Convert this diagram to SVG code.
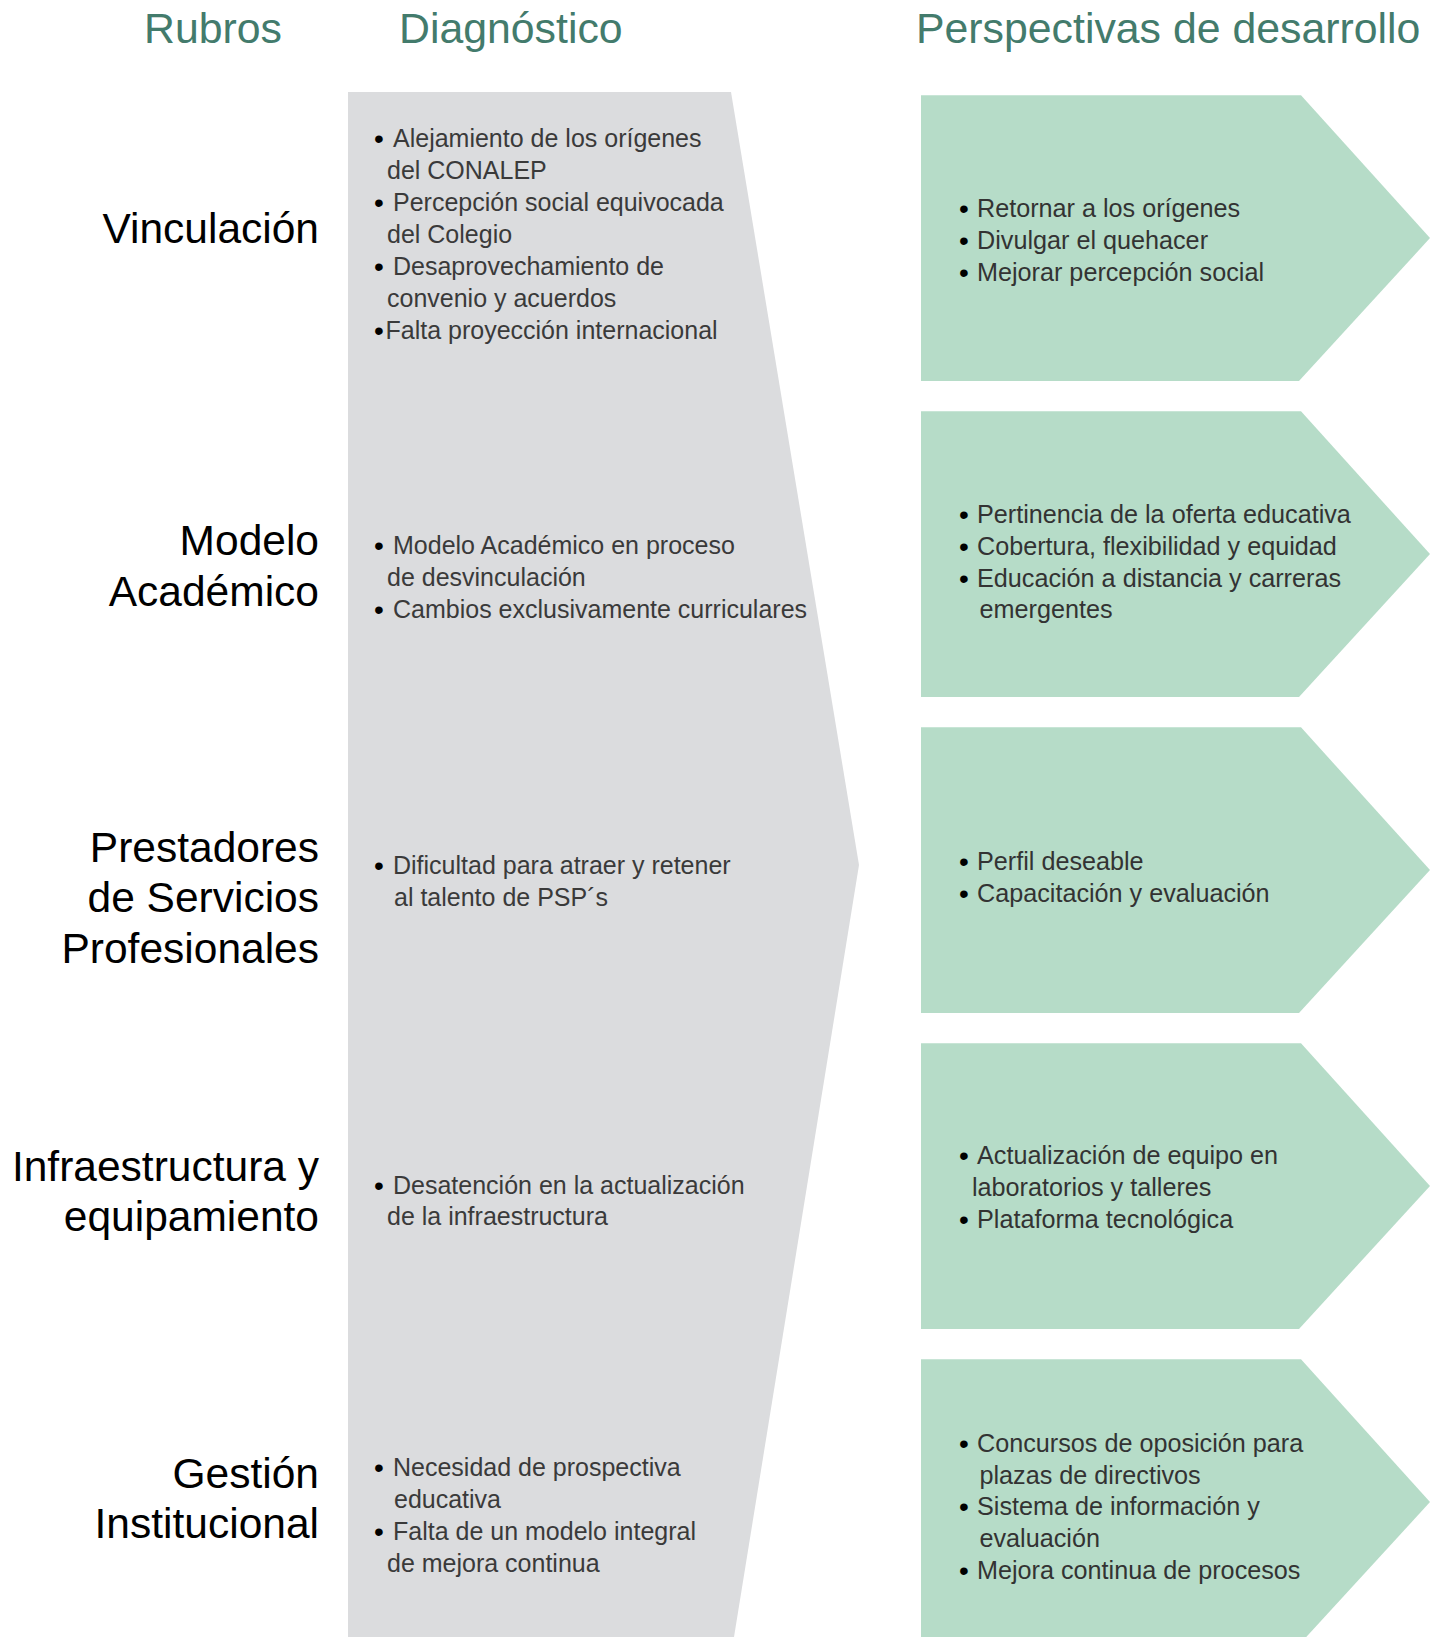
<svg xmlns="http://www.w3.org/2000/svg" width="1438" height="1637" viewBox="0 0 1438 1637">
<style>
.hdr{font-family:"Liberation Sans",Arial,sans-serif;font-size:42.8px;fill:#437b6c}
.rub{font-family:"Liberation Sans",Arial,sans-serif;font-size:42.5px;fill:#000;text-anchor:end}
.dg{font-family:"Liberation Sans",Arial,sans-serif;font-size:25px;fill:#3a3a3a}
.pr{font-family:"Liberation Sans",Arial,sans-serif;font-size:25.2px;fill:#333}
.b{fill:#000;font-size:28px}
.gray{fill:#dbdcde}
.green{fill:#b6dcc8}
</style>
<rect width="1438" height="1637" fill="#fff"/>
<g id="headers">
<text class="hdr" x="144" y="43">Rubros</text>
<text class="hdr" x="399" y="43">Diagnóstico</text>
<text class="hdr" x="916" y="43">Perspectivas de desarrollo</text>
</g>
<g id="diagnostico">
<polygon class="gray" points="348,92 731,92 859,865 734,1637 348,1637"/>
</g>
<g id="rubros">
<text class="rub" x="319" y="243">Vinculación</text>
<text class="rub" x="319" y="555">Modelo</text>
<text class="rub" x="319" y="606">Académico</text>
<text class="rub" x="319" y="862">Prestadores</text>
<text class="rub" x="319" y="912">de Servicios</text>
<text class="rub" x="319" y="963">Profesionales</text>
<text class="rub" x="319" y="1181">Infraestructura y</text>
<text class="rub" x="319" y="1231">equipamiento</text>
<text class="rub" x="319" y="1488">Gestión</text>
<text class="rub" x="319" y="1538">Institucional</text>
</g>
<g id="diag-vinculacion">
<text class="dg" y="147"><tspan class="b" x="374" dy="1.2">•</tspan><tspan x="393" dy="-1.2">Alejamiento de los orígenes</tspan></text>
<text class="dg" x="387" y="179">del CONALEP</text>
<text class="dg" y="211"><tspan class="b" x="374" dy="1.2">•</tspan><tspan x="393" dy="-1.2">Percepción social equivocada</tspan></text>
<text class="dg" x="387" y="243">del Colegio</text>
<text class="dg" y="275"><tspan class="b" x="374" dy="1.2">•</tspan><tspan x="393" dy="-1.2">Desaprovechamiento de</tspan></text>
<text class="dg" x="387" y="306.5">convenio y acuerdos</text>
<text class="dg" y="338.5"><tspan class="b" x="374" dy="1.2">•</tspan><tspan x="385.5" dy="-1.2">Falta proyección internacional</tspan></text>
</g>
<g id="diag-modelo">
<text class="dg" y="554"><tspan class="b" x="374" dy="1.2">•</tspan><tspan x="393" dy="-1.2">Modelo Académico en proceso</tspan></text>
<text class="dg" x="387" y="586">de desvinculación</text>
<text class="dg" y="618"><tspan class="b" x="374" dy="1.2">•</tspan><tspan x="393" dy="-1.2">Cambios exclusivamente curriculares</tspan></text>
</g>
<g id="diag-psp">
<text class="dg" y="873.5"><tspan class="b" x="374" dy="1.2">•</tspan><tspan x="393" dy="-1.2">Dificultad para atraer y retener</tspan></text>
<text class="dg" x="394" y="906">al talento de PSP´s</text>
</g>
<g id="diag-infra">
<text class="dg" y="1193.5"><tspan class="b" x="374" dy="1.2">•</tspan><tspan x="393" dy="-1.2">Desatención en la actualización</tspan></text>
<text class="dg" x="387" y="1225">de la infraestructura</text>
</g>
<g id="diag-gestion">
<text class="dg" y="1476"><tspan class="b" x="374" dy="1.2">•</tspan><tspan x="393" dy="-1.2">Necesidad de prospectiva</tspan></text>
<text class="dg" x="394" y="1507.5">educativa</text>
<text class="dg" y="1539.5"><tspan class="b" x="374" dy="1.2">•</tspan><tspan x="393" dy="-1.2">Falta de un modelo integral</tspan></text>
<text class="dg" x="387" y="1571.5">de mejora continua</text>
</g>
<g id="persp-vinculacion">
<polygon class="green" points="921,95.3 1301,95.3 1430,238.1 1299,380.9 921,380.9"/>
<text class="pr" y="217"><tspan class="b" x="959" dy="1.2">•</tspan><tspan x="977" dy="-1.2">Retornar a los orígenes</tspan></text>
<text class="pr" y="249"><tspan class="b" x="959" dy="1.2">•</tspan><tspan x="977" dy="-1.2">Divulgar el quehacer</tspan></text>
<text class="pr" y="281"><tspan class="b" x="959" dy="1.2">•</tspan><tspan x="977" dy="-1.2">Mejorar percepción social</tspan></text>
</g>
<g id="persp-modelo">
<polygon class="green" points="921,411.3 1301,411.3 1430,554.1 1299,696.9 921,696.9"/>
<text class="pr" y="522.5"><tspan class="b" x="959" dy="1.2">•</tspan><tspan x="977" dy="-1.2">Pertinencia de la oferta educativa</tspan></text>
<text class="pr" y="554.5"><tspan class="b" x="959" dy="1.2">•</tspan><tspan x="977" dy="-1.2">Cobertura, flexibilidad y equidad</tspan></text>
<text class="pr" y="586.5"><tspan class="b" x="959" dy="1.2">•</tspan><tspan x="977" dy="-1.2">Educación a distancia y carreras</tspan></text>
<text class="pr" x="979.5" y="618">emergentes</text>
</g>
<g id="persp-psp">
<polygon class="green" points="921,727.3 1301,727.3 1430,870.1 1299,1012.9 921,1012.9"/>
<text class="pr" y="870"><tspan class="b" x="959" dy="1.2">•</tspan><tspan x="977" dy="-1.2">Perfil deseable</tspan></text>
<text class="pr" y="902"><tspan class="b" x="959" dy="1.2">•</tspan><tspan x="977" dy="-1.2">Capacitación y evaluación</tspan></text>
</g>
<g id="persp-infra">
<polygon class="green" points="921,1043.3 1301,1043.3 1430,1186.1 1299,1328.9 921,1328.9"/>
<text class="pr" y="1163.5"><tspan class="b" x="959" dy="1.2">•</tspan><tspan x="977" dy="-1.2">Actualización de equipo en</tspan></text>
<text class="pr" x="972" y="1195.5">laboratorios y talleres</text>
<text class="pr" y="1227.5"><tspan class="b" x="959" dy="1.2">•</tspan><tspan x="977" dy="-1.2">Plataforma tecnológica</tspan></text>
</g>
<g id="persp-gestion">
<polygon class="green" points="921,1359.3 1301,1359.3 1430,1502.1 1299,1644.9 921,1644.9"/>
<text class="pr" y="1451.5"><tspan class="b" x="959" dy="1.2">•</tspan><tspan x="977" dy="-1.2">Concursos de oposición para</tspan></text>
<text class="pr" x="979.5" y="1483.5">plazas de directivos</text>
<text class="pr" y="1515"><tspan class="b" x="959" dy="1.2">•</tspan><tspan x="977" dy="-1.2">Sistema de información y</tspan></text>
<text class="pr" x="979.5" y="1547">evaluación</text>
<text class="pr" y="1579"><tspan class="b" x="959" dy="1.2">•</tspan><tspan x="977" dy="-1.2">Mejora continua de procesos</tspan></text>
</g>
<g id="connectors"></g>
</svg>
